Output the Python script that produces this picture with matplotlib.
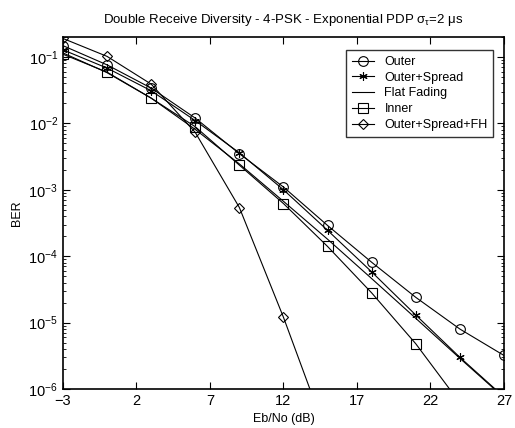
import matplotlib
matplotlib.use("Agg")
import matplotlib.pyplot as plt
from matplotlib.ticker import LogLocator, NullFormatter

plt.rcParams['font.family'] = ['Liberation Sans', 'DejaVu Sans']
plt.rcParams['mathtext.fontset'] = 'custom'
plt.rcParams['mathtext.rm'] = 'Liberation Sans'
plt.rcParams['mathtext.it'] = 'Liberation Sans'

# Eb/No points (dB)
ebno = [-3, 0, 3, 6, 9, 12, 15, 18, 21, 24, 27]

outer = [0.148, 0.076, 0.034, 0.012, 3.5e-3, 1.1e-3, 2.9e-4, 8.1e-5, 2.4e-5, 8.0e-6, 3.2e-6]
outer_spread = [0.128, 0.068, 0.031, 0.011, 3.6e-3, 1.0e-3, 2.45e-4, 5.8e-5, 1.3e-5, 3.0e-6, 7.6e-7]
flat_fading = [0.115, 0.058, 0.024, 8.1e-3, 2.45e-3, 6.7e-4, 1.8e-4, 4.6e-5, 1.16e-5, 2.9e-6, 7.4e-7]
inner = [0.11, 0.059, 0.024, 8.9e-3, 2.35e-3, 6.2e-4, 1.4e-4, 2.8e-5, 4.8e-6, 6.2e-7, 8e-8]
ebno_fh = [-3, 0, 3, 6, 9, 12, 15]
outer_spread_fh = [0.19, 0.102, 0.039, 7.3e-3, 5.4e-4, 1.2e-5, 1.9e-7]

x_ticks = [-3, 2, 7, 12, 17, 22, 27]

fig = plt.figure(figsize=(5.15, 4.28), dpi=100)
ax = fig.add_axes([0.1223, 0.0911, 0.8563, 0.8225])

lw = 0.8
ms = 7
asterisk = (6, 2, 0)
ax.semilogy(ebno, outer, 'k-', marker='o', mfc='none', ms=ms, lw=lw, mew=0.8, label='Outer')
ax.semilogy(ebno, outer_spread, 'k-', marker=asterisk, ms=6, lw=lw, mew=0.8, label='Outer+Spread')
ax.semilogy(ebno, flat_fading, 'k-', lw=lw, label='Flat Fading')
ax.semilogy(ebno, inner, 'k-', marker='s', mfc='none', ms=ms, lw=lw, mew=0.8, label='Inner')
ax.semilogy(ebno_fh, outer_spread_fh, 'k-', marker='D', mfc='none', ms=5.5, lw=lw, mew=0.8,
            label='Outer+Spread+FH')

ax.set_xlim(-3, 27)
ax.set_ylim(1e-6, 0.2)
ax.set_xticks(x_ticks)
ax.yaxis.set_major_locator(LogLocator(base=10, numticks=10))
ax.yaxis.set_minor_locator(LogLocator(base=10, subs=range(2, 10), numticks=10))
ax.yaxis.set_minor_formatter(NullFormatter())
ax.tick_params(which='both', direction='in', top=True, right=True, labelsize=10.5)
ax.tick_params(which='major', length=5)
ax.tick_params(which='minor', length=2.5)
for s in ax.spines.values():
    s.set_linewidth(1.2)

ax.set_title(r"Double Receive Diversity - 4-PSK - Exponential PDP $\sigma_\tau$=2 $\mu$s",
             fontsize=9.5, pad=10)
ax.set_xlabel("Eb/No (dB)", fontsize=9)
ax.set_ylabel("BER", fontsize=9)

leg = ax.legend(loc='upper right', fontsize=9, frameon=True, fancybox=False,
                edgecolor='black', handlelength=1.8, borderpad=0.45, labelspacing=0.3,
                bbox_to_anchor=(0.99, 0.98))
leg.get_frame().set_linewidth(1.0)

fig.savefig("out.png", dpi=100)
